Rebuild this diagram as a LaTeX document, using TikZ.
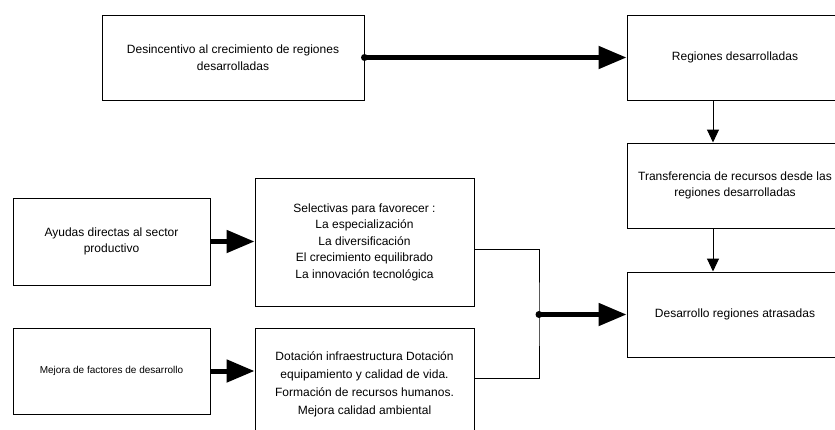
\documentclass[tikz,border=0pt]{standalone}
\usepackage{fontspec}
\setmainfont{Liberation Sans}
\usetikzlibrary{arrows.meta}

\begin{document}
\begin{tikzpicture}[x=1pt,y=-1pt,every text node part/.style={align=center},
box/.style={draw,line width=1pt,inner sep=0pt,font=\fontsize{12}{16.5}\selectfont},
big arrow/.style={line width=5pt,-{Triangle[length=28pt,width=22pt]}},
small arrow/.style={line width=1pt,-{Triangle[length=13pt,width=12pt]}}]
\useasboundingbox (0,0) rectangle (835,429);
\node [box,minimum width=262pt,minimum height=85pt] (desinc) at (233,57.5) {Desincentivo al crecimiento de regiones\\desarrolladas};
\node [box,minimum width=216pt,minimum height=85pt] (desarr) at (735,57.5) {Regiones desarrolladas};
\node [box,minimum width=216pt,minimum height=85pt] (transf) at (735,185.5) {Transferencia de recursos desde las\\regiones desarrolladas};
\node [box,minimum width=216pt,minimum height=85pt] (atras) at (735,314.5) {Desarrollo regiones atrasadas};
\node [box,minimum width=197pt,minimum height=87pt] (ayudas) at (111.5,241.5) {Ayudas directas al sector\\productivo};
\node [box,minimum width=219pt,minimum height=128pt] (select) at (364.5,242) {Selectivas para favorecer :\\La especialización\\La diversificación\\El crecimiento equilibrado\\La innovación tecnológica};
\node [box,minimum width=197pt,minimum height=86pt,font=\fontsize{10}{12}\selectfont] (mejora) at (111.5,371) {Mejora de factores de desarrollo};
\node [box,minimum width=219pt,minimum height=113pt,font=\fontsize{12}{18}\selectfont] (dotac) at (364.5,384.5) {Dotación infraestructura Dotación\\equipamiento y calidad de vida.\\Formación de recursos humanos.\\Mejora calidad ambiental};
\coordinate (junta) at (539,314.5);
\draw [big arrow] (desinc.east) -- (desarr.west);
\fill (desinc.east) circle [radius=3.5pt];
\draw [small arrow] ([xshift=-22pt]desarr.south) -- ([xshift=-22pt]transf.north);
\draw [small arrow] ([xshift=-22pt]transf.south) -- ([xshift=-22pt]atras.north);
\draw [big arrow] (ayudas.east) -- (ayudas.east -| select.west);
\draw [big arrow] (mejora.east) -- (mejora.east -| dotac.west);
\draw [line width=1pt] ([yshift=-7pt]select.east) -| (junta) |- ([yshift=6.5pt]dotac.east);
\draw [big arrow] (junta) -- (atras.west);
\fill (junta) circle [radius=3.5pt];
\end{tikzpicture}
\end{document}
